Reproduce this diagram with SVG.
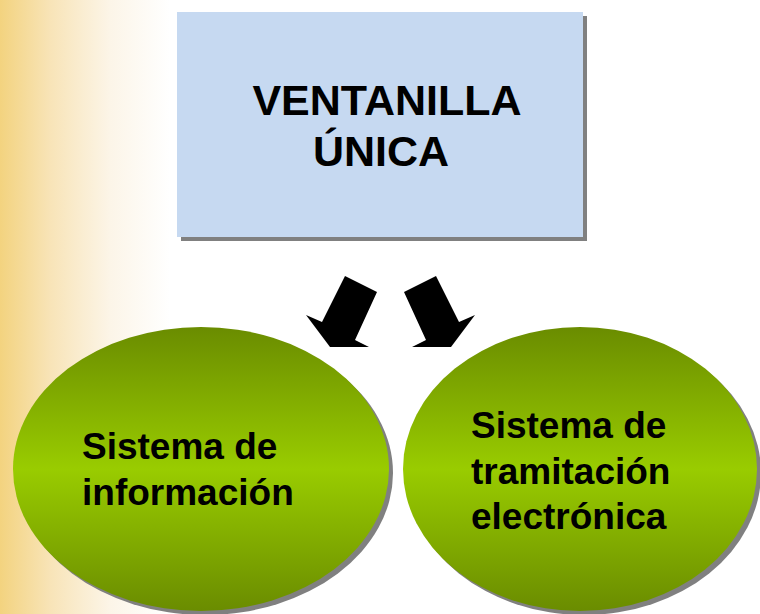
<svg xmlns="http://www.w3.org/2000/svg" width="760" height="614" viewBox="0 0 760 614">
<defs>
<linearGradient id="bg" x1="0" y1="0" x2="170" y2="0" gradientUnits="userSpaceOnUse">
<stop offset="0" stop-color="#F3D37F"/>
<stop offset="0.3" stop-color="#F8E4B8"/>
<stop offset="0.65" stop-color="#FCF5E8"/>
<stop offset="1" stop-color="#FFFFFF"/>
</linearGradient>
<linearGradient id="green" x1="0" y1="0" x2="0" y2="1">
<stop offset="0" stop-color="#6A8C00"/>
<stop offset="0.5" stop-color="#99CC00"/>
<stop offset="1" stop-color="#6A8C00"/>
</linearGradient>
<style>
.shadow{fill:#808080}
.lbl{font-family:"Liberation Sans",Arial,sans-serif;font-weight:bold;fill:#000}
.t1{font-size:43px;text-anchor:middle}
.t2{font-size:37px}
.arrow{fill:#000}
</style>
</defs>
<rect x="0" y="0" width="760" height="614" fill="url(#bg)"/>
<g id="ventanilla">
<rect class="shadow" x="181" y="16" width="406" height="225"/>
<rect x="177" y="12" width="406" height="225" fill="#C6D9F1"/>
<text class="lbl t1" x="387" y="115">VENTANILLA</text>
<text class="lbl t1" x="381" y="166">ÚNICA</text>
</g>
<g id="connectors">
<polygon class="arrow" points="345,276 377,292 355,340 369,347 330,347 306,315 322,322"/>
<polygon class="arrow" points="436,276 404,292 426,340 412,347 451,347 475,315 459,322"/>
</g>
<g id="informacion">
<ellipse class="shadow" cx="205" cy="473" rx="188" ry="142"/>
<ellipse cx="201" cy="469" rx="188" ry="142" fill="url(#green)"/>
<text class="lbl t2" x="82" y="459">Sistema de</text>
<text class="lbl t2" x="82" y="505">información</text>
</g>
<g id="tramitacion">
<ellipse class="shadow" cx="584" cy="473" rx="177" ry="142"/>
<ellipse cx="580" cy="469" rx="177" ry="142" fill="url(#green)"/>
<text class="lbl t2" x="471" y="438">Sistema de</text>
<text class="lbl t2" x="471" y="484">tramitación</text>
<text class="lbl t2" x="471" y="529">electrónica</text>
</g>
</svg>
